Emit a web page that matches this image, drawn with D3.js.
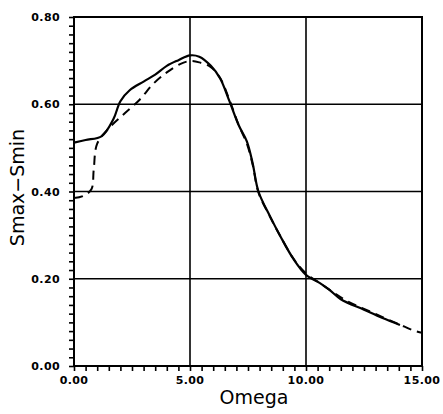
<!DOCTYPE html>
<html><head><meta charset="utf-8">
<script src="https://cdn.jsdelivr.net/npm/d3@7"></script>
<style>body{margin:0;background:#fff}</style>
</head><body>
<svg id="c" width="443" height="414"></svg>
<script>
const solidX = [0,0.5,1.2,1.7,2.0,2.4,3.0,3.5,4.0,4.5,5.0,5.4,5.9,6.3,6.7,7.1,7.45,7.7,7.95,8.45,8.9,9.45,10.0,10.6,11.0,11.5,12.5,13.3,14.05];
const solidY = [0.512,0.518,0.527,0.566,0.607,0.632,0.652,0.668,0.688,0.701,0.712,0.709,0.688,0.659,0.607,0.552,0.515,0.465,0.4,0.343,0.297,0.246,0.209,0.19,0.175,0.153,0.129,0.11,0.094];
const dashX = [0,0.4,0.75,0.85,1.0,1.5,2.2,2.84,3.4,4.0,4.57,5.0,5.4,5.9,6.3,6.7,7.1,7.45,7.7,7.95,8.45,8.9,9.45,10.0,10.6,11.2,11.8,12.5,13.3,14.0,14.6,15.0];
const dashY = [0.385,0.39,0.405,0.45,0.51,0.545,0.58,0.611,0.646,0.673,0.692,0.699,0.696,0.685,0.66,0.61,0.552,0.51,0.462,0.398,0.342,0.297,0.247,0.212,0.19,0.168,0.148,0.131,0.112,0.096,0.082,0.076];
const xTicks = [0,5,10,15];
const xTickLabels = ["0.00","5.00","10.00","15.00"];
const yTicks = [0,0.2,0.4,0.6,0.8];
const yTickLabels = ["0.00","0.20","0.40","0.60","0.80"];
const xLabel = "Omega";
const yLabel = "Smax\u2212Smin";

const L=74,R=422,T=17,B=366;
const x=d3.scaleLinear().domain([0,15]).range([L,R]);
const y=d3.scaleLinear().domain([0,0.8]).range([B,T]);
const svg=d3.select("#c");

// grid
svg.append("g").selectAll("line").data([5,10]).join("line")
  .attr("x1",d=>x(d)).attr("x2",d=>x(d)).attr("y1",T).attr("y2",B)
  .attr("stroke","#000").attr("stroke-width",1.6);
svg.append("g").selectAll("line").data([0.2,0.4,0.6]).join("line")
  .attr("y1",d=>y(d)).attr("y2",d=>y(d)).attr("x1",L).attr("x2",R)
  .attr("stroke","#000").attr("stroke-width",1.6);

// axes with minor ticks
const xAx=d3.axisBottom(x).tickValues(d3.range(0,15.01,0.5)).tickSize(5).tickFormat("");
const gx=svg.append("g").attr("transform",`translate(0,${B})`).call(xAx);
const yAx=d3.axisLeft(y).tickValues(d3.range(0,0.801,0.02)).tickSize(5).tickFormat("");
const gy=svg.append("g").attr("transform",`translate(${L},0)`).call(yAx);
[gx,gy].forEach(g=>{g.select(".domain").remove();g.selectAll("line").attr("stroke","#000").attr("stroke-width",1.6);});

// frame
svg.append("rect").attr("x",L).attr("y",T).attr("width",R-L).attr("height",B-T)
  .attr("fill","none").attr("stroke","#000").attr("stroke-width",2);

// tick labels
svg.append("g").selectAll("text").data(xTicks).join("text")
  .attr("x",d=>x(d)).attr("y",B+18).attr("text-anchor","middle")
  .attr("font-family","DejaVu Sans").attr("font-weight","bold").attr("font-size",11)
  .attr("letter-spacing",0.4)
  .text((d,i)=>xTickLabels[i]);
svg.append("g").selectAll("text").data(yTicks).join("text")
  .attr("x",L-14).attr("y",d=>y(d)+4).attr("text-anchor","end")
  .attr("font-family","DejaVu Sans").attr("font-weight","bold").attr("font-size",11)
  .attr("letter-spacing",0.4)
  .text((d,i)=>yTickLabels[i]);

// axis labels
svg.append("text").attr("x",(L+R)/2+6).attr("y",404).attr("text-anchor","middle")
  .attr("font-family","DejaVu Sans").attr("font-size",19).text(xLabel);
svg.append("text").attr("transform",`translate(24,${(T+B)/2-4}) rotate(-90)`).attr("text-anchor","middle")
  .attr("font-family","DejaVu Sans").attr("font-size",19).text(yLabel);

// curves
const line=d3.line().x(d=>x(d[0])).y(d=>y(d[1])).curve(d3.curveCatmullRom);
svg.append("path").datum(solidX.map((v,i)=>[v,solidY[i]])).attr("d",line)
  .attr("fill","none").attr("stroke","#000").attr("stroke-width",2.2);
svg.append("path").datum(dashX.map((v,i)=>[v,dashY[i]])).attr("d",line)
  .attr("fill","none").attr("stroke","#000").attr("stroke-width",2).attr("stroke-dasharray","9,6");
</script>
</body></html>
